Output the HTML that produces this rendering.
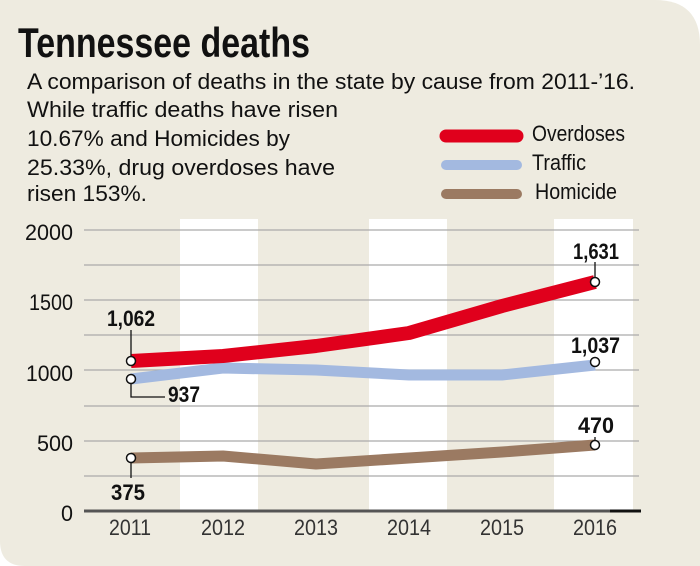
<!DOCTYPE html>
<html><head><meta charset="utf-8"><style>
html,body{margin:0;padding:0;background:#fff;}
svg{display:block;}
text{font-family:"Liberation Sans Narrow","Liberation Sans",sans-serif;}
</style></head><body>
<svg width="700" height="566" viewBox="0 0 700 566" xmlns="http://www.w3.org/2000/svg">
<path d="M0 0 H655 Q700 0 700 45 V566 H25 Q0 566 0 541 Z" fill="#eeebe0"/>
<text x="18" y="57" font-size="42" font-weight="bold" fill="#111" textLength="292" lengthAdjust="spacingAndGlyphs">Tennessee deaths</text>
<g font-size="22" fill="#111">
<text x="27" y="89" textLength="608" lengthAdjust="spacingAndGlyphs">A comparison of deaths in the state by cause from 2011-’16.</text>
<text x="27" y="117" textLength="311" lengthAdjust="spacingAndGlyphs">While traffic deaths have risen</text>
<text x="27" y="146" textLength="263" lengthAdjust="spacingAndGlyphs">10.67% and Homicides by</text>
<text x="27" y="175" textLength="308" lengthAdjust="spacingAndGlyphs">25.33%, drug overdoses have</text>
<text x="27" y="201" textLength="120" lengthAdjust="spacingAndGlyphs">risen 153%.</text>
<text x="532" y="141" textLength="93" lengthAdjust="spacingAndGlyphs">Overdoses</text>
<text x="532" y="170" textLength="54" lengthAdjust="spacingAndGlyphs">Traffic</text>
<text x="535" y="199" textLength="82" lengthAdjust="spacingAndGlyphs">Homicide</text>
</g>
<g stroke-linecap="round">
<line x1="446" y1="136" x2="517" y2="136" stroke="#e0001c" stroke-width="13"/>
<line x1="446" y1="165" x2="517" y2="165" stroke="#a3b9e0" stroke-width="10"/>
<line x1="446" y1="194" x2="517" y2="194" stroke="#9b7a62" stroke-width="10"/>
</g>
<rect x="180" y="219" width="78" height="292" fill="#fff"/>
<rect x="369" y="219" width="78" height="292" fill="#fff"/>
<rect x="554" y="219" width="79" height="292" fill="#fff"/>
<g stroke="#aaa" stroke-width="1.3">
<line x1="84" y1="230" x2="639" y2="230"/><line x1="84" y1="265" x2="639" y2="265"/>
<line x1="84" y1="300" x2="639" y2="300"/><line x1="84" y1="335" x2="639" y2="335"/>
<line x1="84" y1="370" x2="639" y2="370"/><line x1="84" y1="406" x2="639" y2="406"/>
<line x1="84" y1="441" x2="639" y2="441"/><line x1="84" y1="476" x2="639" y2="476"/>
</g>
<line x1="84" y1="511" x2="641" y2="511" stroke="#555" stroke-width="3"/>
<line x1="610" y1="511" x2="641" y2="511" stroke="#111" stroke-width="3"/>
<g font-size="22" fill="#111" lengthAdjust="spacingAndGlyphs">
<text x="25" y="240" textLength="48" lengthAdjust="spacingAndGlyphs">2000</text>
<text x="29" y="310" textLength="44" lengthAdjust="spacingAndGlyphs">1500</text>
<text x="26" y="381" textLength="47" lengthAdjust="spacingAndGlyphs">1000</text>
<text x="37" y="451" textLength="36" lengthAdjust="spacingAndGlyphs">500</text>
<text x="61" y="521" textLength="12" lengthAdjust="spacingAndGlyphs">0</text>
</g>
<g font-size="22" fill="#333">
<text x="109" y="535" textLength="42" lengthAdjust="spacingAndGlyphs">2011</text>
<text x="201" y="535" textLength="44" lengthAdjust="spacingAndGlyphs">2012</text>
<text x="294" y="535" textLength="44" lengthAdjust="spacingAndGlyphs">2013</text>
<text x="387" y="535" textLength="44" lengthAdjust="spacingAndGlyphs">2014</text>
<text x="480" y="535" textLength="44" lengthAdjust="spacingAndGlyphs">2015</text>
<text x="573" y="535" textLength="44" lengthAdjust="spacingAndGlyphs">2016</text>
</g>
<g fill="none" stroke-linejoin="round">
<polyline points="131,458 223,456 316,464 409,458 502,452 595,445" stroke="#9b7a62" stroke-width="11"/>
<polyline points="131,379 223,368 316,370 409,375 502,375 595,365" stroke="#a3b9e0" stroke-width="11"/>
<polyline points="131,361 223,356 316,346 409,333 502,306 595,282" stroke="#e0001c" stroke-width="14"/>
</g>
<g stroke="#111" stroke-width="1.3" fill="none">
<line x1="131" y1="330" x2="131" y2="361"/>
<polyline points="131,379 131,397 165,397"/>
<line x1="131" y1="458" x2="131" y2="478"/>
<line x1="595" y1="262" x2="595" y2="282"/>
<line x1="595" y1="445" x2="595" y2="437"/>
</g>
<g fill="#fff" stroke="#111" stroke-width="1.5">
<circle cx="131" cy="361" r="4.5"/><circle cx="131" cy="379" r="4.5"/><circle cx="131" cy="458" r="4.5"/>
<circle cx="595" cy="282" r="4.5"/><circle cx="595" cy="362" r="4.5"/><circle cx="595" cy="445" r="4.5"/>
</g>
<g font-size="22" font-weight="bold" fill="#111">
<text x="107" y="326" textLength="48" lengthAdjust="spacingAndGlyphs">1,062</text>
<text x="168" y="402" textLength="32" lengthAdjust="spacingAndGlyphs">937</text>
<text x="111" y="500" textLength="34" lengthAdjust="spacingAndGlyphs">375</text>
<text x="573" y="259" textLength="46" lengthAdjust="spacingAndGlyphs">1,631</text>
<text x="571" y="353" textLength="49" lengthAdjust="spacingAndGlyphs">1,037</text>
<text x="578" y="433" textLength="36" lengthAdjust="spacingAndGlyphs">470</text>
</g>
</svg>
</body></html>
